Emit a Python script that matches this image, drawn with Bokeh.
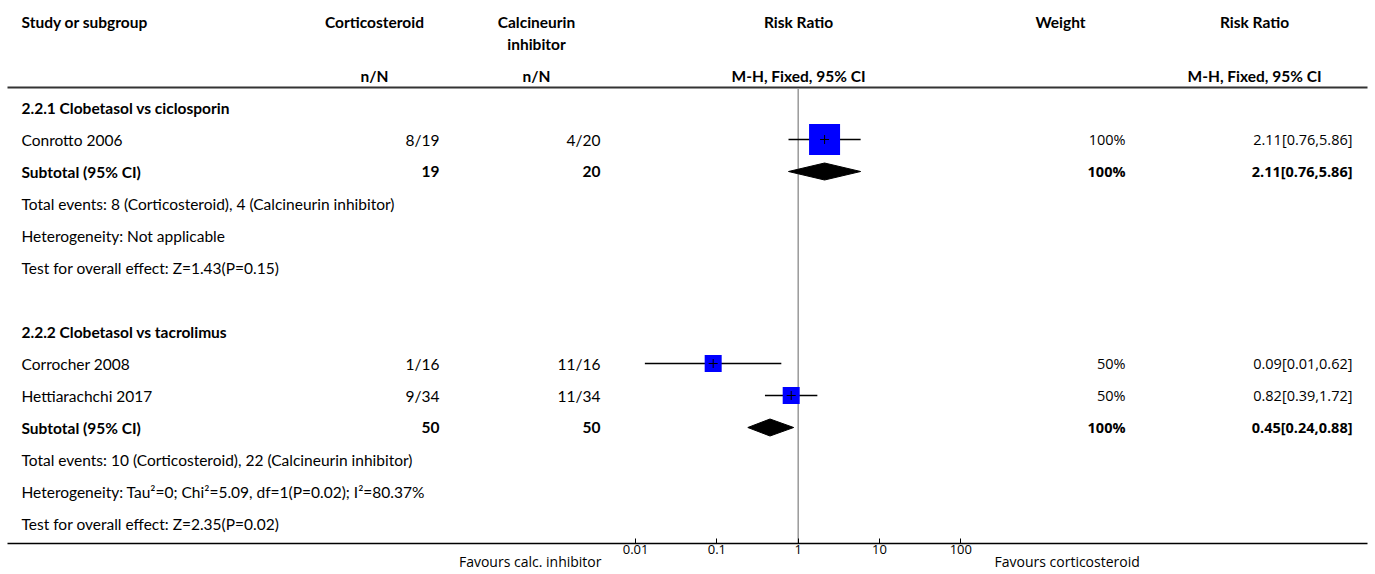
from bokeh.plotting import figure
from bokeh.models import Range1d, LogScale, LogAxis, FixedTicker
from bokeh.core.properties import value
from bokeh.embed import file_html
from bokeh.resources import INLINE

# ---------------- data ----------------
group_titles = ["2.2.1 Clobetasol vs ciclosporin", "2.2.2 Clobetasol vs tacrolimus"]
studies = ["Conrotto 2006", "Corrocher 2008", "Hettiarachchi 2017"]
study_group = [0, 1, 1]
cs_events = [8, 1, 9]
cs_total = [19, 16, 34]
ci_events = [4, 11, 11]
ci_total = [20, 16, 34]
weights = [100, 50, 50]
rr = [2.11, 0.09, 0.82]
rr_lo = [0.76, 0.013, 0.39]
rr_hi = [5.86, 0.62, 1.72]

sub_cs_total = [19, 50]
sub_ci_total = [20, 50]
sub_weight = [100, 100]
sub_rr = [2.11, 0.45]
sub_lo = [0.76, 0.24]
sub_hi = [5.86, 0.88]
tot_events_cs = [8, 10]
tot_events_ci = [4, 22]
heterogeneity = ["Not applicable", "Tau\u00b2=0; Chi\u00b2=5.09, df=1(P=0.02); I\u00b2=80.37%"]
overall_z = [1.43, 2.35]
overall_p = [0.15, 0.02]

ticks = [0.01, 0.1, 1, 10, 100]
tick_labels = ["0.01", "0.1", "1", "10", "100"]
favours = ["Favours calc. inhibitor", "Favours corticosteroid"]

headers_a = ["Study or subgroup", "Corticosteroid", "Calcineurin", "Risk Ratio", "Weight", "Risk Ratio"]
headers_b = ["", "", "inhibitor", "", "", ""]
headers_c = ["", "n/N", "n/N", "M-H, Fixed, 95% CI", "", "M-H, Fixed, 95% CI"]

# ---------------- layout (page pixels) ----------------
LEFT, RIGHT, TOP, FULL_H = 0, 1370, 0, 571
AXIS_Y = 543
LINE_L, LINE_R = 7, 1367
X_ONE, PX_DECADE = 797.7, 81.3
ROW0, ROW_H = 107, 32
HEAD_YA, HEAD_YB, HEAD_YC, HEAD_LINE = 21, 43, 75, 87
FAV_Y = 561
fav_x = [601, 994]
fav_align = ["right", "left"]

x_text = 21
cs_right, ci_right = 439, 600
cs_center, ci_center = 374, 536
forest_center = 798
w_right, w_center = 1125, 1060
rr_right, rr_center = 1352, 1254

MAIN_FONT = value("Lato")
NUM_FONT = value("Open Sans")
FS = "15.5px"
FS_NUM = "14.5px"


def to_rr(px):
    return 10 ** ((px - X_ONE) / PX_DECADE)


p = figure(frame_width=RIGHT - LEFT, frame_height=FULL_H,
           x_range=Range1d(LEFT, RIGHT), y_range=Range1d(FULL_H, TOP),
           output_backend="svg", toolbar_location=None, min_border=0)
p.xaxis.visible = False
p.yaxis.visible = False
p.xgrid.visible = False
p.ygrid.visible = False
p.outline_line_color = None
p.background_fill_color = "white"
p.border_fill_color = "white"

p.extra_x_ranges = {"rr": Range1d(to_rr(LEFT), to_rr(RIGHT))}
p.extra_x_scales = {"rr": LogScale()}

axis = LogAxis(x_range_name="rr", ticker=FixedTicker(ticks=ticks), fixed_location=AXIS_Y,
               bounds=(to_rr(LINE_L), to_rr(LINE_R)),
               major_label_overrides={t: lab for t, lab in zip(ticks, tick_labels)})
axis.axis_line_color = "black"
axis.axis_line_width = 1.5
axis.major_tick_in = 5
axis.major_tick_out = 0
axis.minor_tick_line_color = None
axis.major_tick_line_color = "black"
axis.major_label_text_font = "Open Sans"
axis.major_label_text_font_size = "13px"
axis.major_label_text_color = "black"
axis.major_label_standoff = 1
p.add_layout(axis, "below")

# ---------------- build rows ----------------
left_txt, left_y, left_bold = [], [], []
num_txt, num_x, num_y, num_bold = [], [], [], []
rnum_txt, rnum_x, rnum_y, rnum_bold = [], [], [], []
st_y, sub_y = [], []

row = 0
for g, title in enumerate(group_titles):
    yy = ROW0 + ROW_H * row
    left_txt.append(title); left_y.append(yy); left_bold.append("bold"); row += 1
    for i, s in enumerate(studies):
        if study_group[i] != g:
            continue
        yy = ROW0 + ROW_H * row
        st_y.append(yy)
        left_txt.append(s); left_y.append(yy); left_bold.append("normal")
        num_txt += [f"{cs_events[i]}/{cs_total[i]}", f"{ci_events[i]}/{ci_total[i]}"]
        num_x += [cs_right, ci_right]; num_y += [yy, yy]; num_bold += ["normal", "normal"]
        rnum_txt += [f"{weights[i]}%", f"{rr[i]:.2f}[{rr_lo[i]:.2f},{rr_hi[i]:.2f}]"]
        rnum_x += [w_right, rr_right]; rnum_y += [yy, yy]; rnum_bold += ["normal", "normal"]
        row += 1
    yy = ROW0 + ROW_H * row
    sub_y.append(yy)
    left_txt.append("Subtotal (95% CI)"); left_y.append(yy); left_bold.append("bold")
    num_txt += [str(sub_cs_total[g]), str(sub_ci_total[g])]
    num_x += [cs_right, ci_right]; num_y += [yy, yy]; num_bold += ["bold", "bold"]
    rnum_txt += [f"{sub_weight[g]}%", f"{sub_rr[g]:.2f}[{sub_lo[g]:.2f},{sub_hi[g]:.2f}]"]
    rnum_x += [w_right, rr_right]; rnum_y += [yy, yy]; rnum_bold += ["bold", "bold"]
    row += 1
    extra = [f"Total events: {tot_events_cs[g]} (Corticosteroid), {tot_events_ci[g]} (Calcineurin inhibitor)",
             f"Heterogeneity: {heterogeneity[g]}",
             f"Test for overall effect: Z={overall_z[g]:.2f}(P={overall_p[g]:.2f})"]
    for t in extra:
        yy = ROW0 + ROW_H * row
        left_txt.append(t); left_y.append(yy); left_bold.append("normal"); row += 1
    row += 1  # blank row

# ---------------- headers ----------------
hx = [x_text, cs_center, ci_center, forest_center, w_center, rr_center]
halign = ["left", "center", "center", "center", "center", "center"]
for txts, hy in ((headers_a, HEAD_YA), (headers_b, HEAD_YB), (headers_c, HEAD_YC)):
    keep = [k for k, t in enumerate(txts) if t]
    p.text(x=[hx[k] for k in keep], y=[hy] * len(keep), text=[txts[k] for k in keep],
           text_align=[halign[k] for k in keep], text_baseline="middle",
           text_font=MAIN_FONT, text_font_size=FS, text_font_style="bold", text_color="black")
p.segment(x0=[LINE_L], x1=[LINE_R], y0=[HEAD_LINE], y1=[HEAD_LINE], line_color="#333333", line_width=2)

# ---------------- table text ----------------
p.text(x=[x_text] * len(left_txt), y=left_y, text=left_txt, text_align="left", text_baseline="middle",
       text_font=MAIN_FONT, text_font_size=FS, text_font_style=left_bold, text_color="black")
p.text(x=num_x, y=num_y, text=num_txt, text_align="right", text_baseline="middle",
       text_font=MAIN_FONT, text_font_size=FS, text_font_style=num_bold, text_color="black")
p.text(x=rnum_x, y=rnum_y, text=rnum_txt, text_align="right", text_baseline="middle",
       text_font=NUM_FONT, text_font_size=FS_NUM, text_font_style=rnum_bold, text_color="black")

# ---------------- forest ----------------
p.segment(x0=[1], x1=[1], y0=[HEAD_LINE + 1], y1=[AXIS_Y], x_range_name="rr",
          line_color="#999999", line_width=1.5)
p.segment(x0=rr_lo, x1=rr_hi, y0=st_y, y1=st_y, x_range_name="rr", line_color="black", line_width=1.3)
sizes = [3 + 28 * w / 100 for w in weights]
p.scatter(x=rr, y=st_y, size=sizes, marker="square", fill_color="#0000ff", line_color=None, x_range_name="rr")
p.scatter(x=rr, y=st_y, size=9, marker="cross", line_color="black", line_width=1, x_range_name="rr")
H = 8.5
p.patches(xs=[[lo, m, hi, m] for lo, m, hi in zip(sub_lo, sub_rr, sub_hi)],
          ys=[[y, y - H, y, y + H] for y in sub_y], x_range_name="rr",
          fill_color="black", line_color="black")

# ---------------- favours labels ----------------
p.text(x=fav_x, y=[FAV_Y] * 2, text=favours, text_align=fav_align, text_baseline="middle",
       text_font=NUM_FONT, text_font_size="14px", text_color="black")

open("out.html", "w").write(file_html(p, INLINE))
